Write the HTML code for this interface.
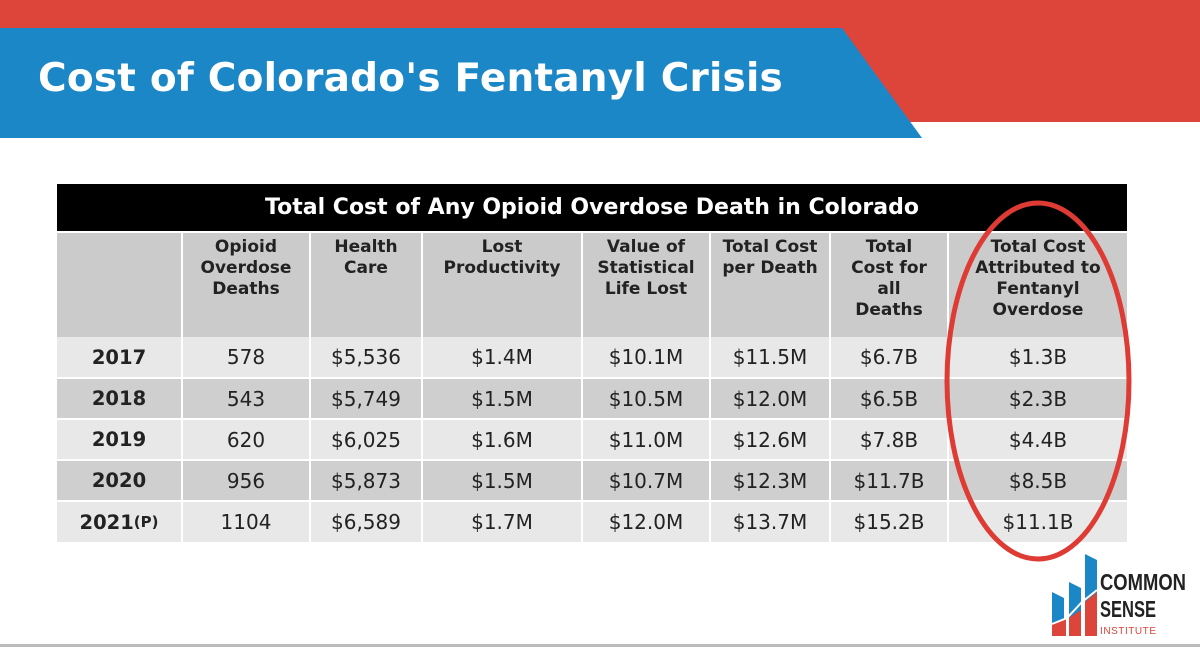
<!DOCTYPE html>
<html><head><style>
body{margin:0;width:1200px;height:647px;position:relative;overflow:hidden;background:#fff;font-family:"DejaVu Sans","Liberation Sans",sans-serif}
.c{position:absolute;display:flex;justify-content:center;text-align:center;color:#222;box-sizing:border-box}
.h{font-weight:bold;font-size:17px;line-height:21px;align-items:flex-start;padding-top:4px;background:#cbcbcb}
.d{font-size:20px;align-items:center}
.y{font-weight:bold;font-size:19.5px}
</style></head><body>
<svg width="1200" height="647" style="position:absolute;left:0;top:0">
<rect x="0" y="0" width="1200" height="28" fill="#dd443a"/>
<rect x="830" y="0" width="370" height="122" fill="#dd443a"/>
<polygon points="0,28 842,28 922,138 0,138" fill="#1c87c6"/>
<rect x="0" y="644" width="1200" height="3" fill="#bbb"/>
</svg>
<div style="position:absolute;left:38px;top:56px;color:#fff;font-weight:bold;font-size:39px;font-family:'DejaVu Sans',sans-serif;letter-spacing:0.2px">Cost of Colorado's Fentanyl Crisis</div>
<div class="c" style="left:57px;top:184px;width:1070px;height:47px;background:#000;color:#fff;font-weight:bold;font-size:22px;align-items:center">Total Cost of Any Opioid Overdose Death in Colorado</div>
<div id="t"></div>
<script>
var cols=[57,181,309,421,581,709,829,947,1127];
var hd=["","Opioid<br>Overdose<br>Deaths","Health<br>Care","Lost<br>Productivity","Value of<br>Statistical<br>Life Lost","Total Cost<br>per Death","Total<br>Cost for<br>all<br>Deaths","Total Cost<br>Attributed to<br>Fentanyl<br>Overdose"];
var rows=[["2017","578","$5,536","$1.4M","$10.1M","$11.5M","$6.7B","$1.3B"],["2018","543","$5,749","$1.5M","$10.5M","$12.0M","$6.5B","$2.3B"],["2019","620","$6,025","$1.6M","$11.0M","$12.6M","$7.8B","$4.4B"],["2020","956","$5,873","$1.5M","$10.7M","$12.3M","$11.7B","$8.5B"],["2021<span style='font-size:15px'>(P)</span>","1104","$6,589","$1.7M","$12.0M","$13.7M","$15.2B","$11.1B"]];
var ys=[[337,377],[379,418],[420,459],[461,500],[502,542]];
var h="";
for(var i=0;i<8;i++){var l=cols[i]+(i?2:0),w=cols[i+1]-l;
h+='<div class="c h" style="left:'+l+'px;top:233px;width:'+w+'px;height:104px">'+hd[i]+'</div>';
for(var r=0;r<5;r++){h+='<div class="c d'+(i==0?' y':'')+'" style="left:'+l+'px;top:'+ys[r][0]+'px;width:'+w+'px;height:'+(ys[r][1]-ys[r][0])+'px;background:'+(r%2?'#cfcfcf':'#e8e8e8')+'">'+rows[r][i]+'</div>';}}
document.getElementById('t').innerHTML=h;
</script>
<svg width="1200" height="647" style="position:absolute;left:0;top:0">
<ellipse cx="1038" cy="381" rx="91" ry="178" fill="none" stroke="#dd3b33" stroke-width="5"/>
<g transform="translate(1052,552)">
<polygon points="0,40 12,46 12,82 0,82" fill="#1c87c6"/>
<polygon points="17,30 29,36 29,70 17,82" fill="#1c87c6"/>
<polygon points="33,2 45,8 45,55 33,68" fill="#1c87c6"/>
<polygon points="0,72 14,66 14,84 0,84" fill="#dd443a"/>
<polygon points="17,66 29,58 29,84 17,84" fill="#dd443a"/>
<polygon points="33,50 45,40 45,84 33,84" fill="#dd443a"/>
<polyline points="0,72 15,66 30,50 45,38" fill="none" stroke="#fff" stroke-width="2"/>
</g>
<text x="1100" y="590" font-family="Liberation Sans Narrow,Liberation Sans,sans-serif" font-weight="bold" font-size="23" fill="#222" textLength="86" lengthAdjust="spacingAndGlyphs">COMMON</text>
<text x="1100" y="617" font-family="Liberation Sans Narrow,Liberation Sans,sans-serif" font-weight="bold" font-size="23" fill="#222" textLength="56" lengthAdjust="spacingAndGlyphs">SENSE</text>
<text x="1100" y="634" font-family="Liberation Sans,sans-serif" font-size="10" fill="#dd443a" textLength="56" lengthAdjust="spacing">INSTITUTE</text>
</svg>
</body></html>
